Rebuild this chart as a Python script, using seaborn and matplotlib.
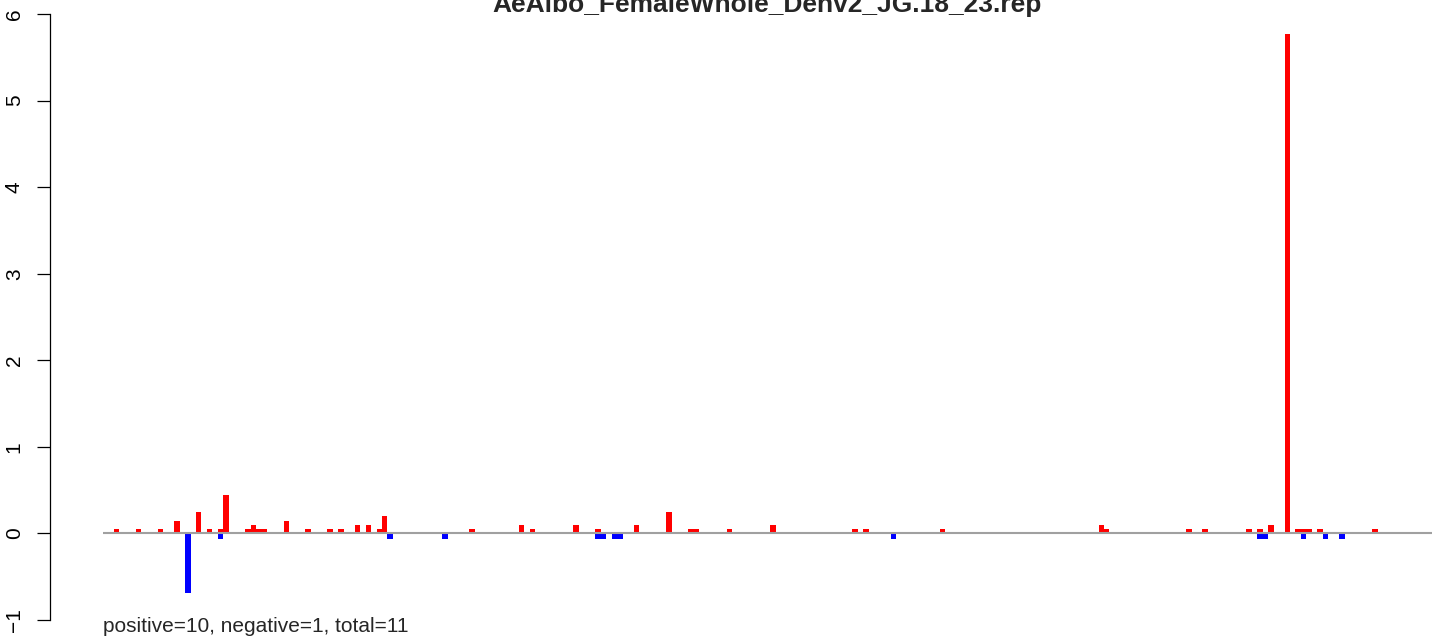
import matplotlib
matplotlib.use("Agg")
import matplotlib.pyplot as plt
import numpy as np
import pandas as pd
import seaborn as sns

title = "AeAlbo_FemaleWhole_Denv2_JG.18_23.rep"
footer = "positive=10, negative=1, total=11"
n_slots = 243

pos_slots = [2, 6, 10, 13, 17, 19, 21, 22, 26, 27, 28, 29, 33, 37, 41, 43, 46, 48, 50, 51,
             67, 76, 78, 86, 90, 97, 103, 107, 108, 114, 122, 137, 139, 153, 182, 183,
             198, 201, 209, 211, 213, 216, 218, 219, 220, 222, 232]
pos_vals = [0.055, 0.055, 0.055, 0.145, 0.245, 0.055, 0.055, 0.44, 0.055, 0.1, 0.055, 0.055,
            0.145, 0.055, 0.055, 0.055, 0.1, 0.1, 0.055, 0.2,
            0.055, 0.1, 0.055, 0.1, 0.055, 0.1, 0.245, 0.055, 0.055, 0.055, 0.1, 0.055, 0.055,
            0.055, 0.1, 0.055, 0.055, 0.055, 0.055, 0.055, 0.1, 5.77, 0.055, 0.055, 0.055,
            0.055, 0.055]
neg_slots = [15, 21, 52, 62, 90, 91, 93, 94, 144, 211, 212, 219, 223, 226]
neg_vals = [-0.69, -0.06, -0.06, -0.06, -0.06, -0.06, -0.06, -0.06, -0.06, -0.06, -0.06,
            -0.06, -0.06, -0.06]
yticks = [-1, 0, 1, 2, 3, 4, 5, 6]

pos = np.zeros(n_slots)
pos[pos_slots] = pos_vals
neg = np.zeros(n_slots)
neg[neg_slots] = neg_vals
df = pd.DataFrame({"slot": np.arange(n_slots), "pos": pos, "neg": neg})

sns.set_theme(style="white")
plt.rcParams["font.family"] = ["Liberation Sans", "DejaVu Sans"]

W, H = 1444, 643
fig = plt.figure(figsize=(W / 100, H / 100), dpi=100)
# plot region in pixels: x 103..1432, y value 6 at 14px, -1 at 620px
ax = fig.add_axes([103 / W, (H - 620) / H, 1329 / W, 606 / H])

sns.barplot(data=df, x="slot", y="pos", color="#ff0000", saturation=1, width=1,
            errorbar=None, linewidth=0, ax=ax, zorder=2)
sns.barplot(data=df, x="slot", y="neg", color="#0000ff", saturation=1, width=1,
            errorbar=None, linewidth=0, ax=ax, zorder=2)
ax.axhline(0, color="#a0a0a0", lw=1.5, zorder=3)

ax.set_xlim(-0.5, -0.5 + 1329 / 5.47)
ax.set_ylim(-1, 6)
ax.set_xlabel("")
ax.set_ylabel("")
ax.set_xticks([])
for s in ["top", "right", "bottom"]:
    ax.spines[s].set_visible(False)
ax.spines["left"].set_position(("outward", 53 * 0.72))
ax.spines["left"].set_bounds(-1, 6)
ax.spines["left"].set_color("black")
ax.spines["left"].set_linewidth(0.9)
ax.set_yticks(yticks)
ax.set_yticklabels([str(t).replace("-", "\u2212") for t in yticks], rotation=90, va="center")
ax.tick_params(axis="y", left=True, length=9.4, width=0.9, color="black",
               labelsize=15, pad=9.5, labelcolor="black")

fig.text(767.5 / W, 1 - 12 / H, title, ha="center", va="baseline",
         fontsize=19, fontweight="bold")
fig.text(103 / W, 1 - 632 / H, footer, ha="left", va="baseline", fontsize=15)

fig.savefig("out.png", dpi=100)
